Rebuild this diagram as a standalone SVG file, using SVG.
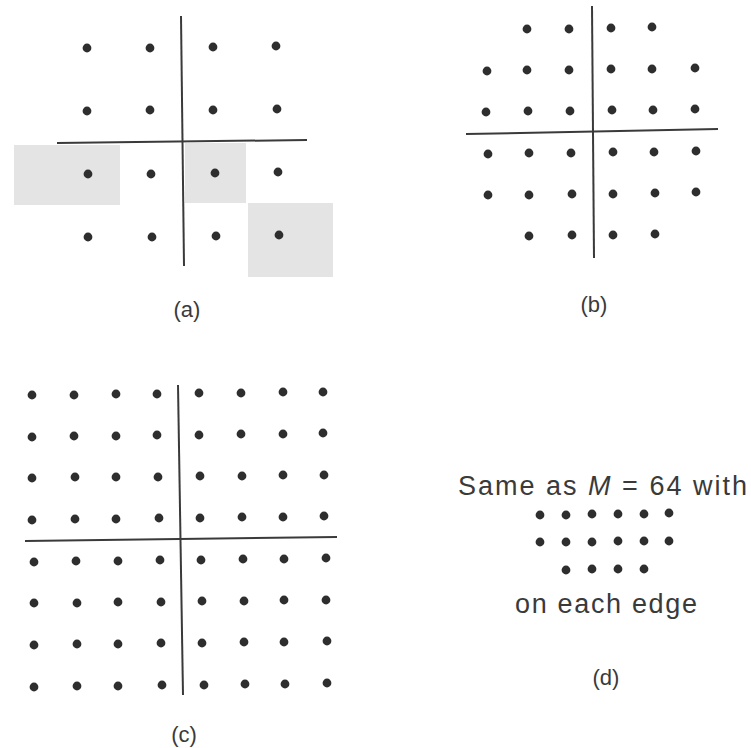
<svg xmlns="http://www.w3.org/2000/svg" width="751" height="748" viewBox="0 0 751 748">
<style>
.bg{fill:#ffffff}
.shade{fill:#e4e4e4}
.ax{stroke:#3a3a3a;stroke-width:2;fill:none}
.d{fill:#2e2e2e}
.lbl{font-family:"Liberation Sans",Arial,sans-serif;font-size:22px;fill:#3a3a3a;text-anchor:middle}
.txt{font-family:"Liberation Sans",Arial,sans-serif;font-size:27px;fill:#3a3a3a}
</style>
<defs><circle id="p" r="4.4" class="d"/></defs>
<rect class="bg" x="0" y="0" width="751" height="748"/>

<g id="panel-a">
<rect class="shade" x="14" y="145" width="106" height="60"/>
<rect class="shade" x="185" y="143" width="61" height="60"/>
<rect class="shade" x="248" y="203" width="85" height="74"/>
<g id="axes-a">
<line class="ax" x1="181" y1="16" x2="184" y2="266"/>
<line class="ax" x1="57" y1="143" x2="307" y2="140"/>
</g>
<use href="#p" x="87" y="48"/><use href="#p" x="150" y="48"/><use href="#p" x="213" y="47"/><use href="#p" x="276" y="46"/>
<use href="#p" x="87" y="111"/><use href="#p" x="150" y="110"/><use href="#p" x="213" y="110"/><use href="#p" x="277" y="109"/>
<use href="#p" x="88" y="174"/><use href="#p" x="151" y="174"/><use href="#p" x="215" y="173"/><use href="#p" x="278" y="172"/>
<use href="#p" x="88" y="237"/><use href="#p" x="152" y="237"/><use href="#p" x="216" y="236"/><use href="#p" x="279" y="235"/>
<text class="lbl" x="187" y="317">(a)</text>
</g>

<g id="panel-b">
<g id="axes-b">
<line class="ax" x1="592" y1="6" x2="594" y2="258"/>
<line class="ax" x1="466" y1="134" x2="718" y2="129"/>
</g>
<use href="#p" x="527" y="29"/><use href="#p" x="569" y="29"/><use href="#p" x="611" y="28"/><use href="#p" x="652" y="27"/>
<use href="#p" x="487" y="71"/><use href="#p" x="527" y="70"/><use href="#p" x="569" y="70"/><use href="#p" x="611" y="69"/><use href="#p" x="652" y="69"/><use href="#p" x="695" y="68"/>
<use href="#p" x="486" y="112"/><use href="#p" x="528" y="111"/><use href="#p" x="570" y="111"/><use href="#p" x="612" y="110"/><use href="#p" x="653" y="110"/><use href="#p" x="695" y="109"/>
<use href="#p" x="488" y="154"/><use href="#p" x="529" y="153"/><use href="#p" x="571" y="153"/><use href="#p" x="613" y="152"/><use href="#p" x="654" y="152"/><use href="#p" x="696" y="151"/>
<use href="#p" x="488" y="195"/><use href="#p" x="529" y="195"/><use href="#p" x="572" y="194"/><use href="#p" x="613" y="194"/><use href="#p" x="655" y="193"/><use href="#p" x="696" y="192"/>
<use href="#p" x="529" y="236"/><use href="#p" x="572" y="235"/><use href="#p" x="613" y="235"/><use href="#p" x="655" y="234"/>
<text class="lbl" x="594" y="312">(b)</text>
</g>

<g id="panel-c">
<g id="axes-c">
<line class="ax" x1="178" y1="385" x2="183" y2="695"/>
<line class="ax" x1="25" y1="541" x2="337" y2="537"/>
</g>
<use href="#p" x="32" y="395"/><use href="#p" x="74" y="395"/><use href="#p" x="116" y="394"/><use href="#p" x="157" y="394"/><use href="#p" x="199" y="393"/><use href="#p" x="241" y="393"/><use href="#p" x="283" y="392"/><use href="#p" x="323" y="392"/>
<use href="#p" x="32" y="437"/><use href="#p" x="74" y="436"/><use href="#p" x="116" y="436"/><use href="#p" x="157" y="435"/><use href="#p" x="199" y="435"/><use href="#p" x="241" y="434"/><use href="#p" x="283" y="434"/><use href="#p" x="323" y="433"/>
<use href="#p" x="32" y="478"/><use href="#p" x="75" y="477"/><use href="#p" x="116" y="477"/><use href="#p" x="158" y="477"/><use href="#p" x="200" y="476"/><use href="#p" x="242" y="476"/><use href="#p" x="283" y="475"/><use href="#p" x="324" y="475"/>
<use href="#p" x="32" y="520"/><use href="#p" x="75" y="519"/><use href="#p" x="116" y="519"/><use href="#p" x="159" y="518"/><use href="#p" x="200" y="518"/><use href="#p" x="242" y="517"/><use href="#p" x="283" y="517"/><use href="#p" x="324" y="516"/>
<use href="#p" x="34" y="562"/><use href="#p" x="76" y="561"/><use href="#p" x="118" y="561"/><use href="#p" x="160" y="560"/><use href="#p" x="201" y="560"/><use href="#p" x="243" y="559"/><use href="#p" x="284" y="559"/><use href="#p" x="326" y="558"/>
<use href="#p" x="34" y="603"/><use href="#p" x="77" y="603"/><use href="#p" x="118" y="602"/><use href="#p" x="161" y="602"/><use href="#p" x="202" y="601"/><use href="#p" x="244" y="601"/><use href="#p" x="284" y="600"/><use href="#p" x="326" y="600"/>
<use href="#p" x="34" y="645"/><use href="#p" x="77" y="644"/><use href="#p" x="118" y="644"/><use href="#p" x="161" y="643"/><use href="#p" x="202" y="643"/><use href="#p" x="244" y="642"/><use href="#p" x="284" y="642"/><use href="#p" x="327" y="641"/>
<use href="#p" x="34" y="687"/><use href="#p" x="77" y="686"/><use href="#p" x="118" y="686"/><use href="#p" x="162" y="685"/><use href="#p" x="204" y="685"/><use href="#p" x="245" y="684"/><use href="#p" x="285" y="684"/><use href="#p" x="327" y="683"/>
<text class="lbl" x="184" y="742">(c)</text>
</g>

<g id="panel-d">
<text class="txt" x="458" y="495" textLength="289" lengthAdjust="spacing">Same as <tspan font-style="italic">M</tspan> = 64 with</text>
<use href="#p" x="540" y="515"/><use href="#p" x="566" y="515"/><use href="#p" x="592" y="514"/><use href="#p" x="618" y="514"/><use href="#p" x="644" y="514"/><use href="#p" x="669" y="513"/>
<use href="#p" x="540" y="542"/><use href="#p" x="566" y="542"/><use href="#p" x="592" y="542"/><use href="#p" x="618" y="541"/><use href="#p" x="644" y="541"/><use href="#p" x="669" y="541"/>
<use href="#p" x="566" y="570"/><use href="#p" x="592" y="569"/><use href="#p" x="618" y="569"/><use href="#p" x="644" y="569"/>
<text class="txt" x="515" y="613" textLength="182" lengthAdjust="spacing">on each edge</text>
<text class="lbl" x="606" y="685">(d)</text>
</g>
</svg>
